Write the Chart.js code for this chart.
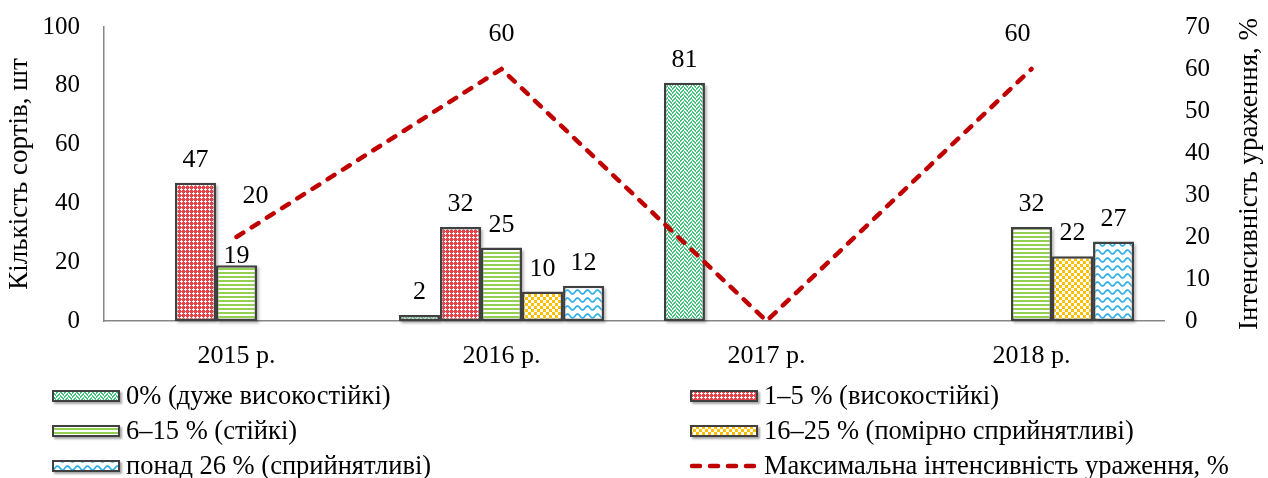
<!DOCTYPE html>
<html>
<head>
<meta charset="utf-8">
<script src="https://cdn.jsdelivr.net/npm/chart.js@4.4.1/dist/chart.umd.min.js"></script>
<style>
  html, body { margin: 0; padding: 0; background: #fff; }
  #wrap { width: 1268px; height: 478px; }
</style>
</head>
<body>
<div id="wrap"><canvas id="c" width="1268" height="478"></canvas></div>
<script>
// Categories and series
const years = ['2015 р.', '2016 р.', '2017 р.', '2018 р.'];
const seriesNames = [
  '0% (дуже високостійкі)',
  '1–5 % (високостійкі)',
  '6–15 % (стійкі)',
  '16–25 % (помірно сприйнятливі)',
  'понад 26 % (сприйнятливі)',
  'Максимальна інтенсивність ураження, %'
];
const veryResistant   = [null, 2, 81, null];
const highlyResistant = [47, 32, null, null];
const resistant       = [19, 25, null, 32];
const moderate        = [null, 10, null, 22];
const susceptible     = [null, 12, null, 27];
const maxIntensity    = [20, 60, 0, 60];

// Axis ticks
const countTicks   = [0, 20, 40, 60, 80, 100];
const percentTicks = [0, 10, 20, 30, 40, 50, 60, 70];
const countTitle   = 'Кількість сортів, шт';
const percentTitle = 'Інтенсивність ураження, %';

const serif = "'Liberation Serif', 'Times New Roman', serif";
Chart.defaults.font.family = serif;
Chart.defaults.color = '#000';

// ---- fill patterns ----
const ctx = document.getElementById('c').getContext('2d');

function makeTile(w, h, paint) {
  const t = document.createElement('canvas');
  t.width = w; t.height = h;
  paint(t.getContext('2d'), w, h);
  return ctx.createPattern(t, 'repeat');
}
function bitmapPattern(rows, fg, bg) {
  return makeTile(rows[0].length, rows.length, (g, w, h) => {
    g.fillStyle = bg; g.fillRect(0, 0, w, h);
    g.fillStyle = fg;
    rows.forEach((r, y) => [...r].forEach((ch, x) => { if (ch === '1') g.fillRect(x, y, 1, 1); }));
  });
}

// herringbone weave: diagonal bands that flip direction every four columns
const weaveRows = [];
for (let y = 0; y < 8; y++) {
  let r = '';
  for (let x = 0; x < 8; x++) {
    const k = x < 4 ? (x + y) % 4 : ((x - y) % 4 + 4) % 4;
    r += k < 2 ? '1' : '0';
  }
  weaveRows.push(r);
}
const weave = bitmapPattern(weaveRows, '#40c47c', '#ffffff');

const trellis = bitmapPattern([
  '1011',
  '0001',
  '1011',
  '1111'
], '#e4454b', '#ffffff');

const stripes = bitmapPattern([
  '1111',
  '1111',
  '0000',
  '0000'
], '#92cf52', '#ffffff');

const checker = bitmapPattern([
  '111000',
  '111000',
  '111000',
  '000111',
  '000111',
  '000111'
], '#ffc000', '#ffffff');

const wave = makeTile(10, 8, (g, w, h) => {
  g.fillStyle = '#ffffff'; g.fillRect(0, 0, w, h);
  g.strokeStyle = '#2aaee8'; g.lineWidth = 1.6;
  g.beginPath();
  for (let x = -1; x <= 11; x += 0.5) {
    const y = 4 + 2 * Math.sin(2 * Math.PI * x / 10);
    if (x === -1) g.moveTo(x, y); else g.lineTo(x, y);
  }
  g.stroke();
});

const barBorder = '#404040';
function barSet(label, data, fill) {
  return {
    type: 'bar', label, data, backgroundColor: fill,
    borderColor: barBorder, borderWidth: 2.5, borderSkipped: false,
    yAxisID: 'y', order: 1,
    categoryPercentage: 0.774, barPercentage: 1.0
  };
}

// vertical axes: fixed width, no extra top/bottom padding for tick labels
function fixVertical(width) {
  return function (s) {
    s.width = width;
    s.paddingTop = 0;
    s.paddingBottom = 0;
  };
}

// ---- plugins ----
const barShadows = {
  id: 'barShadows',
  beforeDatasetsDraw(chart) {
    const c = chart.ctx;
    c.save();
    c.shadowColor = 'rgba(0,0,0,0.35)';
    c.shadowBlur = 3;
    c.shadowOffsetX = 2;
    c.shadowOffsetY = 2;
    c.fillStyle = '#ffffff';
    chart.data.datasets.forEach((ds, di) => {
      if (ds.type !== 'bar') return;
      chart.getDatasetMeta(di).data.forEach((el, i) => {
        if (ds.data[i] === null) return;
        const { x, y, base, width } = el.getProps(['x', 'y', 'base', 'width'], true);
        c.fillRect(x - width / 2, y, width, base - y);
      });
    });
    c.restore();
  }
};

const valueLabels = {
  id: 'valueLabels',
  afterDatasetsDraw(chart, args, opts) {
    const c = chart.ctx;
    c.save();
    c.font = `${opts.size}px ${serif}`;
    c.fillStyle = '#000';
    c.textAlign = 'center';
    c.textBaseline = 'alphabetic';
    chart.data.datasets.forEach((ds, di) => {
      const meta = chart.getDatasetMeta(di);
      meta.data.forEach((el, i) => {
        const v = ds.data[i];
        if (v === null || v === undefined) return;
        if (ds.type === 'line') {
          if (v === 0) return;
          const s = opts.lineShift[i] || [0, 0];
          c.fillText(String(v), el.x + s[0], el.y + s[1]);
        } else {
          const extra = opts.barShift[di + ':' + i] || 0;
          c.fillText(String(v), el.x, el.y - opts.barGap + extra);
        }
      });
    });
    c.restore();
  }
};

const axisTitles = {
  id: 'axisTitles',
  afterDraw(chart, args, opts) {
    const c = chart.ctx;
    const a = chart.chartArea;
    const cy = (a.top + a.bottom) / 2;
    c.save();
    c.font = `${opts.size}px ${serif}`;
    c.fillStyle = '#000';
    c.textAlign = 'center';
    c.textBaseline = 'middle';
    [[opts.leftX, countTitle], [opts.rightX, percentTitle]].forEach(([x, t]) => {
      c.save();
      c.translate(x, cy);
      c.rotate(-Math.PI / 2);
      c.fillText(t, 0, 0);
      c.restore();
    });
    c.restore();
  }
};

const legendBlock = {
  id: 'legendBlock',
  afterDraw(chart, args, opts) {
    const c = chart.ctx;
    c.save();
    c.font = `${opts.size}px ${serif}`;
    c.textAlign = 'left';
    c.textBaseline = 'middle';
    chart.data.datasets.forEach((ds, i) => {
      const x = opts.columns[i % 2];
      const y = opts.rows[Math.floor(i / 2)];
      const w = opts.swatchW, h = opts.swatchH;
      if (ds.type === 'line') {
        c.save();
        c.strokeStyle = ds.borderColor;
        c.lineWidth = ds.borderWidth;
        c.lineCap = ds.borderCapStyle;
        c.setLineDash(ds.borderDash);
        c.beginPath();
        c.moveTo(x + 2, y);
        c.lineTo(x + w, y);
        c.stroke();
        c.restore();
      } else {
        c.save();
        c.shadowColor = 'rgba(0,0,0,0.35)';
        c.shadowBlur = 2;
        c.shadowOffsetX = 1.5;
        c.shadowOffsetY = 1.5;
        c.fillStyle = '#fff';
        c.fillRect(x, y - h / 2, w, h);
        c.restore();
        c.fillStyle = ds.backgroundColor;
        c.fillRect(x, y - h / 2, w, h);
        c.strokeStyle = barBorder;
        c.lineWidth = 2;
        c.strokeRect(x + 1, y - h / 2 + 1, w - 2, h - 2);
      }
      c.fillStyle = '#000';
      c.fillText(ds.label, x + w + opts.textGap, y + 1);
    });
    c.restore();
  }
};

new Chart(ctx, {
  data: {
    labels: years,
    datasets: [
      barSet(seriesNames[0], veryResistant, weave),
      barSet(seriesNames[1], highlyResistant, trellis),
      barSet(seriesNames[2], resistant, stripes),
      barSet(seriesNames[3], moderate, checker),
      barSet(seriesNames[4], susceptible, wave),
      {
        type: 'line', label: seriesNames[5], data: maxIntensity,
        yAxisID: 'y1', order: 0,
        borderColor: '#c00000', borderWidth: 4.5, borderDash: [8, 10],
        borderCapStyle: 'round',
        pointRadius: 0, tension: 0, fill: false
      }
    ]
  },
  options: {
    responsive: false,
    animation: false,
    devicePixelRatio: 1,
    layout: { padding: { top: 27, bottom: 0, left: 0, right: 0 } },
    plugins: {
      legend: { display: false },
      tooltip: { enabled: false },
      valueLabels: {
        size: 26, barGap: 16,
        barShift: { '2:0': 14 },
        lineShift: [[19, -34], [0, -28], [0, -28], [-14, -28]]
      },
      axisTitles: { size: 27, leftX: 20, rightX: 1250 },
      legendBlock: {
        size: 26.5, columns: [52, 690], rows: [396, 431, 466],
        swatchW: 68, swatchH: 12, textGap: 6
      }
    },
    scales: {
      x: {
        offset: true,
        grid: { display: false, drawTicks: false },
        border: { display: true, color: '#868686', width: 1.5 },
        ticks: { font: { size: 26 }, padding: 20, color: '#000' },
        afterFit(s) { s.height = 157; }
      },
      y: {
        position: 'left',
        min: 0, max: 100,
        afterBuildTicks(s) { s.ticks = countTicks.map(v => ({ value: v })); },
        grid: { display: false, drawTicks: false },
        border: { display: true, color: '#868686', width: 1.5 },
        ticks: { font: { size: 25 }, padding: 24, color: '#000' },
        afterFit: fixVertical(104)
      },
      y1: {
        position: 'right',
        min: 0, max: 70,
        afterBuildTicks(s) { s.ticks = percentTicks.map(v => ({ value: v })); },
        grid: { display: false, drawTicks: false },
        border: { display: false },
        ticks: { font: { size: 25 }, padding: 21, color: '#000' },
        afterFit: fixVertical(104)
      }
    }
  },
  plugins: [barShadows, valueLabels, axisTitles, legendBlock]
});
</script>
</body>
</html>
